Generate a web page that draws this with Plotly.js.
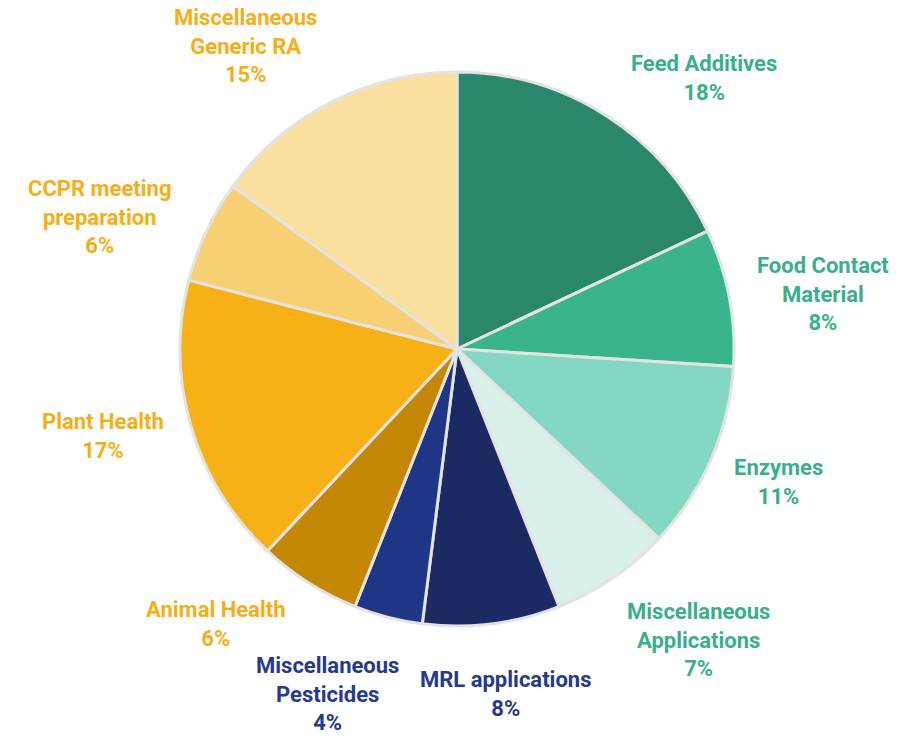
<!DOCTYPE html>
<html>
<head>
<meta charset="utf-8">
<script src="https://cdn.plot.ly/plotly-3.0.1.min.js"></script>
<style>html,body{margin:0;padding:0;background:#fff;}#chart{width:923px;height:738px;}</style>
</head>
<body>
<div id="chart"></div>
<script>
const categories = ['Feed Additives','Food Contact Material','Enzymes','Miscellaneous Applications','MRL applications','Miscellaneous Pesticides','Animal Health','Plant Health','CCPR meeting preparation','Miscellaneous Generic RA'];
const labelLines = ['Feed Additives','Food Contact<br>Material','Enzymes','Miscellaneous<br>Applications','MRL applications','Miscellaneous<br>Pesticides','Animal Health','Plant Health','CCPR meeting<br>preparation','Miscellaneous<br>Generic RA'];
const shares = [18, 8, 11, 7, 8, 4, 6, 17, 6, 15];
const sliceColors = ['#2a876c','#3ab38f','#84d8c3','#d8f0e9','#1b2a63','#1f3586','#c48806','#f7b116','#f8cf72','#fadf9f'];
const labelColors = ['#3aaf8c','#3aaf8c','#3aaf8c','#3aaf8c','#253a8a','#253a8a','#f6ae17','#f6ae17','#f6ae17','#f6ae17'];
// label anchor positions (pixels in the 923x738 frame)
const labelPos = [[704,78],[823,294],[778,482],[698,640],[505,694],[327,694],[215,624],[103,436],[100,217],[245,46]];

const W = 923, H = 738;
const annotations = categories.map((c,i)=>({
  text: labelLines[i] + '<br>' + shares[i] + '%',
  x: labelPos[i][0]/W, y: 1 - labelPos[i][1]/H,
  xref:'paper', yref:'paper', xanchor:'center', yanchor:'middle',
  showarrow:false, align:'center',
  font:{family:'Roboto', size:22, color:labelColors[i], weight:700}
}));

const trace = {
  type:'pie',
  labels: categories,
  values: shares,
  sort:false,
  direction:'clockwise',
  rotation:0,
  textinfo:'none',
  hoverinfo:'skip',
  marker:{colors:sliceColors, line:{color:'#e3e3e3', width:3}},
  domain:{x:[180/W, 734/W], y:[1-626/H, 1-72/H]},
  showlegend:false
};

Plotly.newPlot('chart',[trace],{
  width:W, height:H,
  margin:{l:0,r:0,t:0,b:0},
  paper_bgcolor:'#fff',
  showlegend:false,
  annotations: annotations
},{displayModeBar:false, staticPlot:true});
</script>
</body>
</html>
